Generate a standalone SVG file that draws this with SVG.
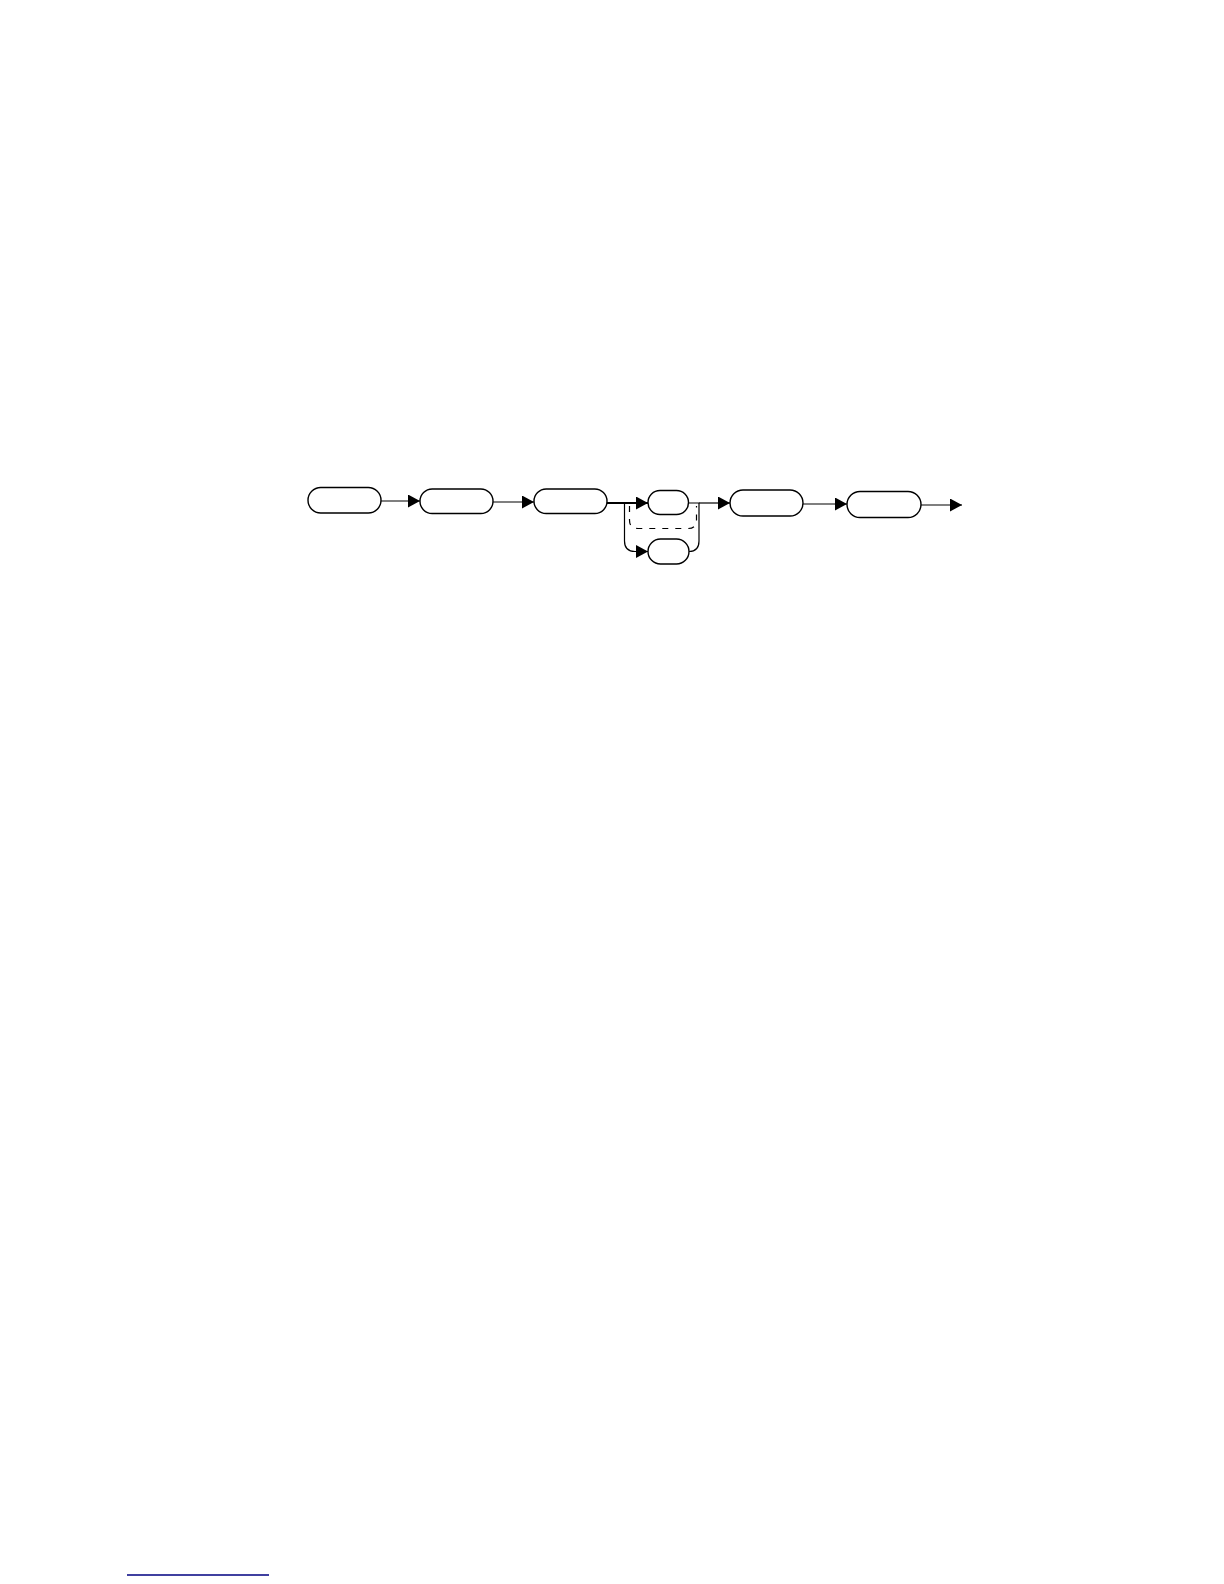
<svg xmlns="http://www.w3.org/2000/svg" width="1224" height="1584" viewBox="0 0 1224 1584">
<style>
.node{fill:#fff;stroke:#000;stroke-width:1.4}
.conn{fill:none;stroke:#000;stroke-width:1.2}
.thick{fill:none;stroke:#000;stroke-width:2}
.dash{fill:none;stroke:#000;stroke-width:1.2;stroke-dasharray:6,7}
</style>
<defs>
<marker id="arr" markerWidth="12" markerHeight="13" refX="12" refY="6.5" orient="auto" markerUnits="userSpaceOnUse">
<path d="M0,0 L12,6.5 L0,13 Z" fill="#000"/>
</marker>
</defs>
<rect width="1224" height="1584" fill="#fff"/>
<g id="connectors">
<line class="conn" x1="381" y1="501" x2="420" y2="501" marker-end="url(#arr)"/>
<line class="conn" x1="493" y1="502" x2="534" y2="502" marker-end="url(#arr)"/>
<line class="thick" x1="607" y1="503" x2="648" y2="503" marker-end="url(#arr)"/>
<path class="conn" d="M624.5,503 V541 Q624.5,551.5 635,551.5 H648" marker-end="url(#arr)"/>
<path class="conn" d="M689,503 H699 V541 Q699,551.5 689,551.5"/>
<path class="dash" d="M629.5,506 V520 Q629.5,528.5 638,528.5 H688 Q696.5,528.5 696.5,520 V506"/>
<line class="conn" x1="699" y1="503" x2="730" y2="503" marker-end="url(#arr)"/>
<line class="conn" x1="803" y1="504" x2="847" y2="504" marker-end="url(#arr)"/>
<line class="conn" x1="921" y1="505" x2="962" y2="505" marker-end="url(#arr)"/>
</g>
<g id="node1"><rect class="node" x="308" y="487.5" width="73" height="25.5" rx="12.7"/></g>
<g id="node2"><rect class="node" x="420" y="489" width="73" height="24.5" rx="12.2"/></g>
<g id="node3"><rect class="node" x="534" y="489" width="73" height="24.5" rx="12.2"/></g>
<g id="node4"><rect class="node" x="648" y="490.5" width="40.5" height="24" rx="12"/></g>
<g id="node5"><rect class="node" x="648" y="539" width="41" height="25" rx="12.5"/></g>
<g id="node6"><rect class="node" x="730" y="490" width="73" height="26" rx="13"/></g>
<g id="node7"><rect class="node" x="847" y="491.5" width="74" height="26" rx="13"/></g>
<line x1="127" y1="1575" x2="269" y2="1575" stroke="#000080" stroke-width="1.3"/>
</svg>
